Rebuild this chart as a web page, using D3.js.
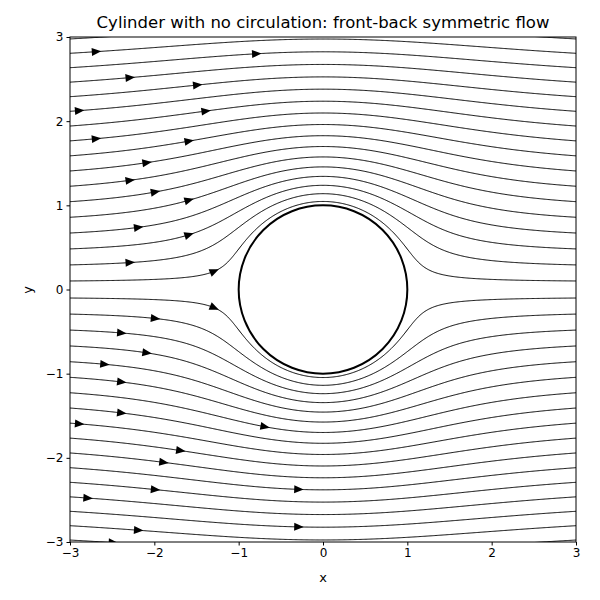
<!DOCTYPE html><html><head><meta charset="utf-8">
<script src="https://cdn.jsdelivr.net/npm/d3@7"></script>
<style>body{margin:0;background:#fff}text{font-family:"DejaVu Sans",sans-serif}</style></head><body>
<svg id="c" width="600" height="600"></svg>
<script>
// stream function levels psi = y(1 - 1/r^2) for the drawn streamlines
const psiLevels = [0.09,0.26,0.43,0.6,0.77,0.94,1.11,1.28,1.45,1.62,1.79,1.96,2.13,2.3,2.47,2.64,2.81,2.96,
  -0.09,-0.26,-0.43,-0.6,-0.77,-0.94,-1.11,-1.28,-1.45,-1.62,-1.79,-1.96,-2.13,-2.3,-2.47,-2.64,-2.81,-2.96];
// x position of the arrow on each streamline
const arrowX = [-1.3,-2.3,-1.6,-2.2,-1.6,-2.0,-2.3,-2.1,-1.6,-2.7,-1.4,-2.9,-1.5,-2.3,-0.8,-2.7,0,-2.7,
  -1.3,-2.0,-2.4,-2.1,-2.6,-2.4,-0.7,-2.4,-2.9,-1.7,-1.9,-0.3,-2.0,-2.8,-0.3,-2.2,-2.5,-2.0];
const xTicks = [-3,-2,-1,0,1,2,3], yTicks = [-3,-2,-1,0,1,2,3];

const svg = d3.select("#c");
const x = d3.scaleLinear().domain([-3,3]).range([70,576]);
const y = d3.scaleLinear().domain([-3,3]).range([542,37]);
const g = svg.append("g");
svg.append("defs").append("clipPath").attr("id","cl").append("rect")
  .attr("x",70).attr("y",37).attr("width",506).attr("height",505);
const pg = g.append("g").attr("clip-path","url(#cl)");

function solveY(xx, psi){
  const s = psi>=0?1:-1, p = Math.abs(psi);
  let lo = Math.abs(xx)<1 ? Math.sqrt(1-xx*xx) : 0, hi = 6;
  const f = v => v - v/(xx*xx+v*v) - p;
  for(let i=0;i<60;i++){const m=(lo+hi)/2; if(f(m)>0) hi=m; else lo=m;}
  return s*(lo+hi)/2;
}
const xs = d3.range(-3.05,3.0501,0.01);
const line = d3.line().x(d=>x(d[0])).y(d=>y(d[1]));
psiLevels.forEach((psi,i)=>{
  const pts = xs.map(xx=>[xx,solveY(xx,psi)]);
  pg.append("path").attr("d",line(pts)).attr("fill","none").attr("stroke","#000").attr("stroke-width",1);
  const ax = arrowX[i], ay = solveY(ax,psi), ay2 = solveY(ax+0.01,psi);
  const ang = Math.atan2(y(ay2)-y(ay), x(ax+0.01)-x(ax))*180/Math.PI;
  pg.append("path").attr("d","M-3.5,-4L6,0L-3.5,4Z").attr("fill","#000")
    .attr("transform",`translate(${x(ax)},${y(ay)}) rotate(${ang})`);
});
// cylinder
pg.append("ellipse").attr("cx",x(0)).attr("cy",y(0)).attr("rx",x(1)-x(0)).attr("ry",y(0)-y(1))
  .attr("fill","none").attr("stroke","#000").attr("stroke-width",2);

g.append("rect").attr("x",70).attr("y",37).attr("width",506).attr("height",505)
  .attr("fill","none").attr("stroke","#000").attr("stroke-width",1);
const ax1 = g.append("g").attr("transform","translate(0,542)").call(d3.axisBottom(x).tickValues(xTicks).tickSize(3.5).tickFormat(d=>String(d).replace("-","−")));
const ax2 = g.append("g").attr("transform","translate(70,0)").call(d3.axisLeft(y).tickValues(yTicks).tickSize(3.5).tickFormat(d=>String(d).replace("-","−")));
[ax1,ax2].forEach(a=>{a.select(".domain").remove();a.selectAll("text").attr("font-size",12).attr("fill","#000").style("font-family","DejaVu Sans");});
svg.append("text").attr("x",323).attr("y",28).attr("text-anchor","middle").attr("font-size",16.5).text("Cylinder with no circulation: front-back symmetric flow");
svg.append("text").attr("x",323).attr("y",582).attr("text-anchor","middle").attr("font-size",13).text("x");
svg.append("text").attr("transform","translate(32,290) rotate(-90)").attr("text-anchor","middle").attr("font-size",13).text("y");
</script></body></html>
